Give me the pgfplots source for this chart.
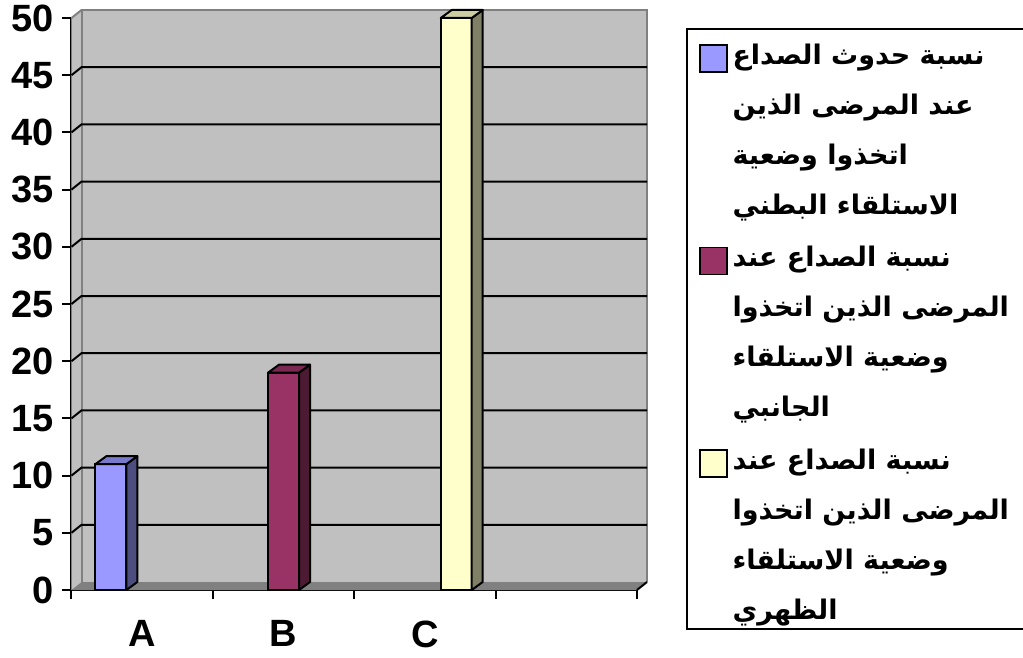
\documentclass[border=0pt]{standalone}
\usepackage{pgfplots}
\pgfplotsset{compat=1.18}
\usepackage{fontspec}
\setmainfont{Liberation Sans}
\newfontfamily\arabicfont[Script=Arabic]{DejaVu Sans}
\TeXXeTstate=1
\definecolor{wall}{HTML}{C0C0C0}
\definecolor{walledge}{HTML}{808080}
\definecolor{aF}{HTML}{9999FF}
\definecolor{aS}{HTML}{4D4D80}
\definecolor{aT}{HTML}{7A7ACC}
\definecolor{bF}{HTML}{993366}
\definecolor{bS}{HTML}{4D1A33}
\definecolor{bT}{HTML}{7A2952}
\definecolor{cF}{HTML}{FFFFCC}
\definecolor{cS}{HTML}{808066}
\definecolor{cT}{HTML}{CCCCA3}
\newcommand{\lineZ}[1]{\hbox to 300pt{\vrule height 0pt depth 10pt width 0pt#1\hfil}}
\newcommand{\entry}[4]{\fontsize{27}{50}\selectfont\arabicfont\bfseries\vtop{\baselineskip=50pt\lineskiplimit=-100pt\hbox{#1}\hbox{#2}\hbox{#3}\lineZ{#4}}}
\begin{document}
\begin{tikzpicture}[x=1pt,y=1pt]
\useasboundingbox (0,0) rectangle (1023,657);
\begin{axis}[
  at={(71.5pt,67pt)}, anchor=south west,
  scale only axis, width=565.5pt, height=572pt,
  xmin=0, xmax=4, ymin=0, ymax=50,
  clip=false,
  axis lines=left,
  axis line style={-, line width=2.5pt, black},
  ytick={0,5,...,50},
  xtick={0,1,2,3,4}, xticklabels={},
  extra x ticks={0.5,1.5,2.5}, extra x tick labels={A,B,C},
  extra x tick style={major tick length=0pt, xticklabel style={yshift=-27pt}},
  tick align=outside, major tick length=9pt,
  tick style={line width=2pt, black},
  ticklabel style={font=\fontsize{38}{40}\selectfont\bfseries},
  yticklabel style={inner xsep=9pt},
  /pgf/number format/assume math mode=true,
  legend style={at={(1.0867,0.9825)}, anchor=north west, draw=black, line width=2pt,
    fill=white, inner xsep=12pt, inner ysep=0pt, row sep=7.5pt, column sep=5pt,
    nodes={inner sep=0pt, text depth=}, cells={anchor=base west}},
  legend image code/.code={\draw[#1, draw=black, line width=1.5pt] (0pt,-8pt) rectangle (27pt,19pt);},
]
% 3D walls
\fill[wall] ([xshift=10pt,yshift=8pt]axis cs:0,0) rectangle ([xshift=10pt,yshift=8pt]axis cs:4,50);
\fill[wall] (axis cs:0,0) -- (axis cs:0,50) -- ([xshift=10pt,yshift=8pt]axis cs:0,50) -- ([xshift=10pt,yshift=8pt]axis cs:0,0) -- cycle;
\fill[walledge] (axis cs:0,0) -- (axis cs:4,0) -- ([xshift=10pt,yshift=8pt]axis cs:4,0) -- ([xshift=10pt,yshift=8pt]axis cs:0,0) -- cycle;
\draw[walledge, line width=2pt] ([xshift=10pt,yshift=8pt]axis cs:0,0) -- ([xshift=10pt,yshift=8pt]axis cs:0,50) -- ([xshift=10pt,yshift=8pt]axis cs:4,50) -- ([xshift=10pt,yshift=8pt]axis cs:4,0);
\draw[walledge, line width=2pt] (axis cs:0,50) -- ([xshift=10pt,yshift=8pt]axis cs:0,50);
\pgfplotsinvokeforeach{5,10,15,20,25,30,35,40,45}{
  \draw[black, line width=2pt] (axis cs:0,#1) -- ([xshift=10pt,yshift=8pt]axis cs:0,#1) -- ([xshift=10pt,yshift=8pt]axis cs:4,#1);
}
\draw[black, line width=2pt] (axis cs:4,0) -- ([xshift=10pt,yshift=8pt]axis cs:4,0);
% bars (front faces)
\addplot[ybar, bar width=31pt, bar shift=-31.3pt, fill=aF, draw=black, line width=2pt] coordinates {(0.5,11)};
\addlegendentry{\entry{\vrule height 35pt depth 0pt width 0pt\beginR نسبة حدوث الصداع\endR}{\beginR عند المرضى الذين\endR}{\beginR اتخذوا وضعية\endR}{\beginR الاستلقاء البطني\endR}}
\addplot[ybar, bar width=31pt, bar shift=0pt, fill=bF, draw=black, line width=2pt] coordinates {(1.5,19)};
\addlegendentry{\entry{\vrule height 35pt depth 0pt width 0pt\beginR نسبة الصداع عند\endR}{\beginR المرضى الذين اتخذوا\endR}{\beginR وضعية الاستلقاء\endR}{\beginR الجانبي\endR}}
\addplot[ybar, bar width=31pt, bar shift=31.3pt, fill=cF, draw=black, line width=2pt] coordinates {(2.5,50)};
\addlegendentry{\entry{\vrule height 35pt depth 0pt width 0pt\beginR نسبة الصداع عند\endR}{\beginR المرضى الذين اتخذوا\endR}{\beginR وضعية الاستلقاء\endR}{\beginR الظهري\endR}}
% bar sides and tops
\addplot[forget plot, fill=aS, draw=black, line width=2pt, line join=round] coordinates {(0.3882,0) (0.3882,11) (0.4660,11.7) (0.4660,0.7)} -- cycle;
\addplot[forget plot, fill=aT, draw=black, line width=2pt, line join=round] coordinates {(0.1690,11) (0.3882,11) (0.4660,11.7) (0.2468,11.7)} -- cycle;
\addplot[forget plot, fill=bS, draw=black, line width=2pt, line join=round] coordinates {(1.6096,0) (1.6096,19) (1.6874,19.7) (1.6874,0.7)} -- cycle;
\addplot[forget plot, fill=bT, draw=black, line width=2pt, line join=round] coordinates {(1.3904,19) (1.6096,19) (1.6874,19.7) (1.4682,19.7)} -- cycle;
\addplot[forget plot, fill=cS, draw=black, line width=2pt, line join=round] coordinates {(2.8310,0) (2.8310,50) (2.9088,50.7) (2.9088,0.7)} -- cycle;
\addplot[forget plot, fill=cT, draw=black, line width=2pt, line join=round] coordinates {(2.6118,50) (2.8310,50) (2.9088,50.7) (2.6896,50.7)} -- cycle;
\end{axis}
\end{tikzpicture}
\end{document}
